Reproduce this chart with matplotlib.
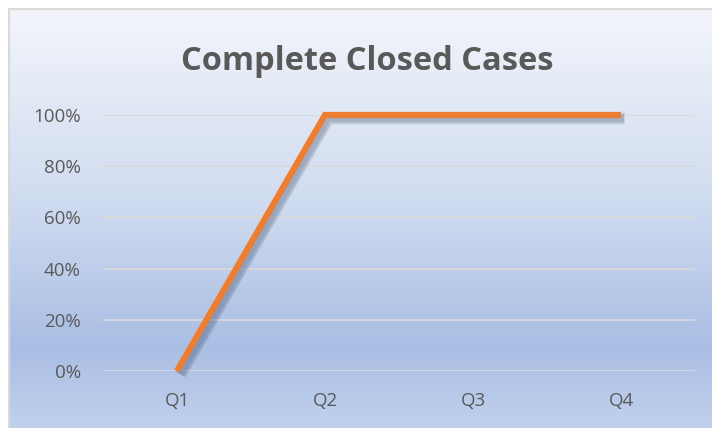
import numpy as np
import matplotlib
matplotlib.use("Agg")
import matplotlib.pyplot as plt
import matplotlib.patheffects as pe
from matplotlib.colors import LinearSegmentedColormap
from matplotlib.ticker import PercentFormatter

# Data
quarters = ["Q1", "Q2", "Q3", "Q4"]
closed_pct = [0, 100, 100, 100]
y_ticks = [0, 20, 40, 60, 80, 100]

plt.rcParams['font.family'] = ['Open Sans', 'DejaVu Sans']

fig = plt.figure(figsize=(7.12, 4.28), dpi=100)
fig.patch.set_facecolor("white")

# Gradient chart area background (Excel style)
bg = fig.add_axes([9 / 712, -0.01, 1.0, 1.01 - 9 / 428], zorder=0)
grad = LinearSegmentedColormap.from_list("bg", [
    (0.0, (243 / 255, 245 / 255, 251 / 255)),
    (0.45, (208 / 255, 220 / 255, 240 / 255)),
    (0.80, (170 / 255, 190 / 255, 228 / 255)),
    (1.0, (194 / 255, 210 / 255, 237 / 255)),
])
bg.imshow(np.linspace(0, 1, 256).reshape(-1, 1), aspect="auto", cmap=grad,
          extent=[0, 1, 0, 1])
bg.set_xticks([])
bg.set_yticks([])
for s in bg.spines.values():
    s.set_color("#d9d9d9")
    s.set_linewidth(1.5)

# Plot area
ax = fig.add_axes([103 / 712, 57 / 428, 592 / 712, 256 / 428], zorder=1)
ax.patch.set_alpha(0)
x = np.arange(len(quarters))
shadows = [pe.SimpleLineShadow(offset=(o, -o), shadow_color="#2f3f5c", alpha=0.12,
                               linewidth=4.5 + w)
           for o, w in [(2.5, 4), (2.5, 2.5), (2, 1)]]
ax.plot(x, closed_pct, color="#ed7d31", linewidth=4.5, solid_capstyle="butt",
        solid_joinstyle="miter", path_effects=shadows + [pe.Normal()], zorder=3,
        clip_on=False)

ax.set_xlim(-0.5, len(quarters) - 0.5)
ax.set_ylim(0, 100)
ax.set_yticks(y_ticks)
ax.yaxis.set_major_formatter(PercentFormatter(decimals=0))
ax.set_xticks(x)
ax.set_xticklabels(quarters)
ax.grid(axis="y", color="#d9d9d9", linewidth=1.2)
ax.set_axisbelow(True)
ax.tick_params(length=0, labelsize=13.5, colors="#595959")
ax.tick_params(axis="y", pad=16)
ax.tick_params(axis="x", pad=15)
for s in ax.spines.values():
    s.set_visible(False)

fig.text(367 / 712, 1 - 61 / 428, "Complete Closed Cases", ha="center", va="center",
         fontsize=23.5, fontweight="bold", color="#595959")

fig.savefig("out.png", dpi=100)
